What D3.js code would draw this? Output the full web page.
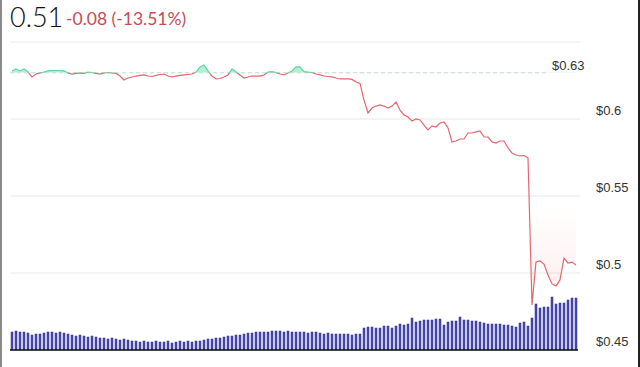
<!DOCTYPE html>
<html><head><meta charset="utf-8">
<script src="https://cdn.jsdelivr.net/npm/d3@7"></script>
<style>html,body{margin:0;padding:0;background:#fff;}svg{display:block;}</style>
</head><body>
<svg id="chart" width="640" height="367"></svg>
<script>
const lastPrice = "0.51";
const changeText = "-0.08 (-13.51%)";
const baselinePrice = 0.63;
const baselineLabel = "$0.63";
const yTicks = [0.45, 0.5, 0.55, 0.6];
const yTickLabels = ["$0.45", "$0.5", "$0.55", "$0.6"];
const gridValues = [0.5, 0.55, 0.6, 0.65];
const prices = [
 0.6312,0.6325,0.6312,0.6325,0.6305,0.6273,0.6292,0.6299,0.6305,0.6312,
 0.6315,0.6315,0.6315,0.6312,0.6299,0.6292,0.6296,0.6299,0.6296,0.6305,
 0.6302,0.6296,0.6292,0.6299,0.6302,0.6299,0.6296,0.6279,0.6253,0.6266,
 0.6273,0.6279,0.6283,0.6286,0.6279,0.6276,0.6283,0.6289,0.6292,0.6279,
 0.6273,0.6279,0.6283,0.6286,0.6289,0.6292,0.6305,0.6338,0.6351,0.6312,
 0.6279,0.6260,0.6263,0.6273,0.6286,0.6325,0.6305,0.6286,0.6266,0.6273,
 0.6279,0.6279,0.6279,0.6286,0.6305,0.6308,0.6302,0.6292,0.6286,0.6299,
 0.6312,0.6338,0.6338,0.6308,0.6305,0.6302,0.6292,0.6286,0.6279,0.6276,
 0.6273,0.6266,0.6260,0.6260,0.6260,0.6257,0.6240,0.6231,0.6123,0.6039,
 0.6071,0.6084,0.6091,0.6084,0.6071,0.6084,0.6110,0.6058,0.6026,0.6013,
 0.5987,0.6000,0.5994,0.5961,0.5929,0.5955,0.5948,0.5974,0.5981,0.5942,
 0.5851,0.5857,0.5870,0.5870,0.5909,0.5909,0.5916,0.5922,0.5883,0.5883,
 0.5851,0.5844,0.5857,0.5857,0.5812,0.5779,0.5766,0.5760,0.5763,0.5747,
 0.4792,0.5071,0.5078,0.5058,0.4987,0.4929,0.4916,0.4955,0.5097,0.5065,
 0.5071,0.5052
];
const volumes = [
 18,19,18,18,17, 15,16,16,17, 18,18,17,18,17,16,
 15,14,15,14,13,14,13,12, 12,11,12,11,10,11,
 10,9,9,8,9,8,8,9,8,8,9,7,8,9, 8,9,8,9,9,
 10,11,11,12,12, 13,14,14,15,15, 16,17,17,18,18,18,18,
 19,19,19,18,19,18,18, 18,18,17,18,18,17,16,17,16,16,16,
 16,16,15,16,16, 22,23,23,22,22, 24,24,22,24, 26,25,26, 32,
 28,29,30,30,30,31, 31,25, 28,29,29, 33, 30,30,29,29,28,
 27,26,26,26,26,25,25, 24,23, 27,28, 24, 32, 46, 42,43,43, 53,
 46,47,47, 50,52,52
];

const svg = d3.select("#chart");
const W = 640, H = 367;
const x = d3.scaleLinear().domain([0, prices.length - 1]).range([12, 576]);
const y = d3.scaleLinear().domain([0.45, 0.65]).range([350, 42]);
const yv = d3.scaleLinear().domain([0, 60]).range([350, 290]);
const yb = y(baselinePrice);

const defs = svg.append("defs");
const grad = defs.append("linearGradient").attr("id","redGrad")
  .attr("gradientUnits","userSpaceOnUse").attr("x1",0).attr("x2",0).attr("y1",y(0.545)).attr("y2",y(0.485));
grad.append("stop").attr("offset","0").attr("stop-color","#f29a9a").attr("stop-opacity",0);
grad.append("stop").attr("offset","1").attr("stop-color","#f29a9a").attr("stop-opacity",0.16);
defs.append("clipPath").attr("id","clipAbove").append("rect").attr("x",0).attr("y",0).attr("width",W).attr("height",yb);
defs.append("clipPath").attr("id","clipBelow").append("rect").attr("x",0).attr("y",yb).attr("width",W).attr("height",H-yb);

// gridlines
svg.append("g").selectAll("line").data(gridValues).join("line")
  .attr("x1",10).attr("x2",580).attr("y1",d=>y(d)).attr("y2",d=>y(d))
  .attr("stroke","#e8e8e8").attr("stroke-width",1);

// baseline dashed
svg.append("line").attr("x1",10).attr("x2",548).attr("y1",yb).attr("y2",yb)
  .attr("stroke","#d0d0d0").attr("stroke-dasharray","4,3").attr("stroke-width",1);
svg.append("text").attr("x",552).attr("y",yb-3).text(baselineLabel)
  .attr("font-family","Liberation Sans, Arial, sans-serif").attr("font-size",13).attr("fill","#333");

// y axis labels
const yAxis = d3.axisRight(y).tickValues(yTicks).tickSize(0).tickFormat((d,i)=>yTickLabels[i]);
const ga = svg.append("g").attr("transform","translate(596,0)").call(yAxis);
ga.select(".domain").remove();
ga.selectAll("text").attr("x",0).attr("dy","-0.35em")
  .attr("font-family","Liberation Sans, Arial, sans-serif").attr("font-size",13).attr("fill","#333");

// volume bars
svg.append("g").selectAll("rect").data(volumes).join("rect")
  .attr("x",(d,i)=>x(i)-1).attr("width",2)
  .attr("y",d=>yv(d)).attr("height",d=>350-yv(d))
  .attr("fill","#4b4bb5").attr("stroke","#2f2f8c").attr("stroke-width",0.5);

// areas
const area = d3.area().x((d,i)=>x(i)).y0(yb).y1(d=>y(d));
const line = d3.line().x((d,i)=>x(i)).y(d=>y(d));
svg.append("path").datum(prices).attr("d",area).attr("clip-path","url(#clipAbove)")
  .attr("fill","#b2f0d6");
svg.append("path").datum(prices).attr("d",area).attr("clip-path","url(#clipBelow)")
  .attr("fill","url(#redGrad)");
svg.append("path").datum(prices).attr("d",line).attr("clip-path","url(#clipAbove)")
  .attr("fill","none").attr("stroke","#5fd3a3").attr("stroke-width",1.2);
svg.append("path").datum(prices).attr("d",line).attr("clip-path","url(#clipBelow)")
  .attr("fill","none").attr("stroke","#e2686f").attr("stroke-width",1.2);

// bottom axis line
svg.append("line").attr("x1",10).attr("x2",578).attr("y1",350).attr("y2",350)
  .attr("stroke","#111").attr("stroke-width",1.5);

// header
svg.append("text").attr("x",10).attr("y",27).text(lastPrice)
  .attr("font-family","Lato, sans-serif").attr("font-weight",300).attr("font-size",27).attr("fill","#111");
svg.append("text").attr("x",66).attr("y",25).text(changeText)
  .attr("font-family","Lato, sans-serif").attr("font-size",17.5).attr("fill","#c94a55");

// frame edges
svg.append("rect").attr("x",0).attr("y",0).attr("width",2).attr("height",H).attr("fill","#8a8a8a");
svg.append("rect").attr("x",638).attr("y",0).attr("width",2).attr("height",H).attr("fill","#222");
</script>
</body></html>
